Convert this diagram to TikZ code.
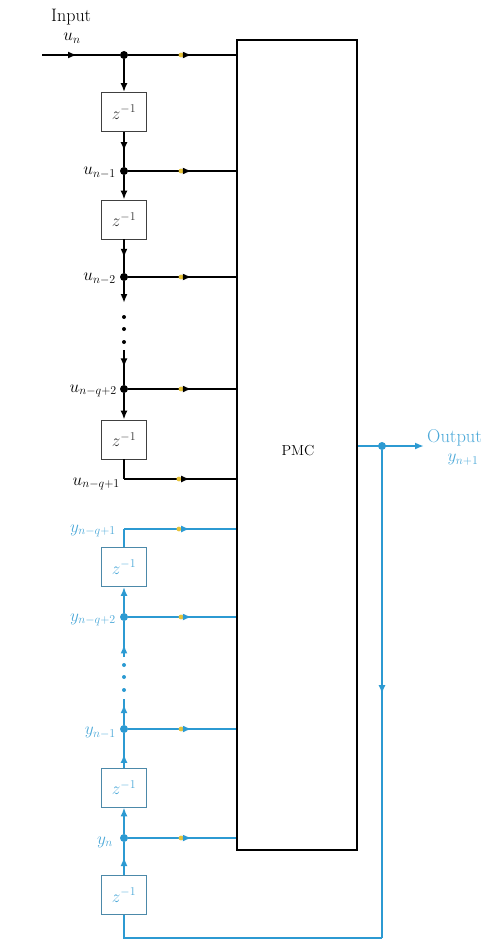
\documentclass[tikz,border=0pt]{standalone}
\usetikzlibrary{arrows.meta,decorations.markings}
\definecolor{sblue}{HTML}{2C9AD2}
\definecolor{tblue}{HTML}{4BA8D8}
\definecolor{ymark}{HTML}{E6C33A}
\begin{document}
\begin{tikzpicture}[x=1pt,y=-1pt,
  lbl/.style={font=\fontsize{17.5}{20}\selectfont, inner sep=0pt},
  sig/.style={line width=2.2pt, black},
  bsig/.style={line width=2pt, sblue},
  dbox/.style={draw=black!75, line width=0.8pt, minimum width=45pt, minimum height=39pt, inner sep=0pt, font=\fontsize{17}{19}\selectfont, text=black!80},
  bbox/.style={dbox, draw=sblue!70!black!80, text=tblue},
  tip/.style={-{Latex[length=9pt,width=7pt]}},
  amark/.style={postaction={decorate},decoration={markings,mark=at position #1 with {\arrow{Latex[length=9pt,width=7pt]}}}},
  tap/.style={postaction={decorate},decoration={markings,
     mark=at position 0.49 with {\fill[ymark] (0,0) circle (2.4pt);},
     mark=at position 0.59 with {\arrow{Latex[length=9pt,width=7pt]}}}},
  dotn/.style={circle, fill, inner sep=0pt, minimum size=8pt},
]
\useasboundingbox (0,0) rectangle (490,942);

% PMC block
\node[draw, line width=2pt, minimum width=120pt, minimum height=810pt, inner sep=0pt] (pmc) at (297,445) {};
\node[lbl, font=\fontsize{14.5}{17}\selectfont] (pmcl) at (298,451) {PMC};

% input delay line
\coordinate (in) at (42,55);
\node[dotn] (t0) at (124,55) {};
\node[dbox] (b1) at (124,112) {$z^{-1}$};
\node[dotn] (t1) at (124,171) {};
\node[dbox] (b2) at (124,219.5) {$z^{-1}$};
\node[dotn] (t2) at (124,277) {};
\coordinate (d1) at (124,303);
\coordinate (d2) at (124,350);
\node[dotn] (t3) at (124,389) {};
\node[dbox] (b3) at (124,439.5) {$z^{-1}$};
\coordinate (t4) at (124,479);

\draw[sig, amark=0.45] (in) -- (t0);
\draw[sig, tap] (t0) -- (t0 -| pmc.west);
\draw[sig, tip] (t0) -- (b1.north);
\draw[sig, amark=0.55] (b1.south) -- (t1);
\draw[sig, tap] (t1) -- (t1 -| pmc.west);
\draw[sig, tip] (t1) -- (b2.north);
\draw[sig, amark=0.55] (b2.south) -- (t2);
\draw[sig, tap] (t2) -- (t2 -| pmc.west);
\draw[sig, tip] (t2) -- (d1);
\fill (124,317) circle (2pt) (124,329) circle (2pt) (124,342) circle (2pt);
\draw[sig, amark=0.5] (d2) -- (t3);
\draw[sig, tap] (t3) -- (t3 -| pmc.west);
\draw[sig, tip] (t3) -- (b3.north);
\draw[sig] (b3.south) -- (t4);
\draw[sig, tap] (t4) -- (t4 -| pmc.west);

% labels, input side
\node[lbl, anchor=west, font=\fontsize{18}{20}\selectfont] (inl) at (51,17) {Input};
\node[lbl] (unl) at (72,38) {$u_n$};
\node[lbl, anchor=east] (l1) at (116,173) {$u_{n-1}$};
\node[lbl, anchor=east] (l2) at (116,279) {$u_{n-2}$};
\node[lbl, anchor=east] (l3) at (117,391) {$u_{n-q+2}$};
\node[lbl, anchor=east] (l4) at (120,484) {$u_{n-q+1}$};

% output feedback delay line
\coordinate (s1) at (124,529);
\node[bbox] (b4) at (124,567) {$z^{-1}$};
\node[dotn, sblue] (s2) at (124,617) {};
\coordinate (e1) at (124,657);
\coordinate (e2) at (124,699);
\node[dotn, sblue] (s3) at (124,729) {};
\node[bbox] (b5) at (124,787.5) {$z^{-1}$};
\node[dotn, sblue] (s4) at (124,838) {};
\node[bbox] (b6) at (124,895) {$z^{-1}$};
\coordinate (fb) at (382,938);
\node[dotn, sblue] (oj) at (382,446) {};
\coordinate (out) at (424,446);

\draw[bsig] (b4.north) -- (s1);
\draw[bsig, tap] (s1) -- (s1 -| pmc.west);
\draw[bsig, tip] (s2) -- (b4.south);
\draw[bsig, tap] (s2) -- (s2 -| pmc.west);
\draw[bsig, amark=0.35] (e1) -- (s2);
\fill[sblue] (124,665) circle (2pt) (124,677) circle (2pt) (124,690) circle (2pt);
\draw[bsig, amark=0.8] (s3) -- (e2);
\draw[bsig, tap] (s3) -- (s3 -| pmc.west);
\draw[bsig, amark=0.4] (b5.north) -- (s3);
\draw[bsig, tip] (s4) -- (b5.south);
\draw[bsig, tap] (s4) -- (s4 -| pmc.west);
\draw[bsig, amark=0.55] (b6.north) -- (s4);

\draw[bsig, tip] (oj -| pmc.east) -- (out);
\draw[bsig, amark=0.5] (oj) -- (fb);
\draw[bsig] (fb) -| (b6.south);

% labels, output side
\node[lbl, text=tblue, anchor=east] (m1) at (116,531) {$y_{n-q+1}$};
\node[lbl, text=tblue, anchor=east] (m2) at (116,620) {$y_{n-q+2}$};
\node[lbl, text=tblue, anchor=east] (m3) at (116,733) {$y_{n-1}$};
\node[lbl, text=tblue, anchor=east] (m4) at (113,842) {$y_{n}$};
\node[lbl, text=tblue, anchor=west, font=\fontsize{18.5}{21}\selectfont] (ol) at (427,438) {Output};
\node[lbl, text=tblue] (yl) at (463,460) {$y_{n+1}$};
\end{tikzpicture}
\end{document}
